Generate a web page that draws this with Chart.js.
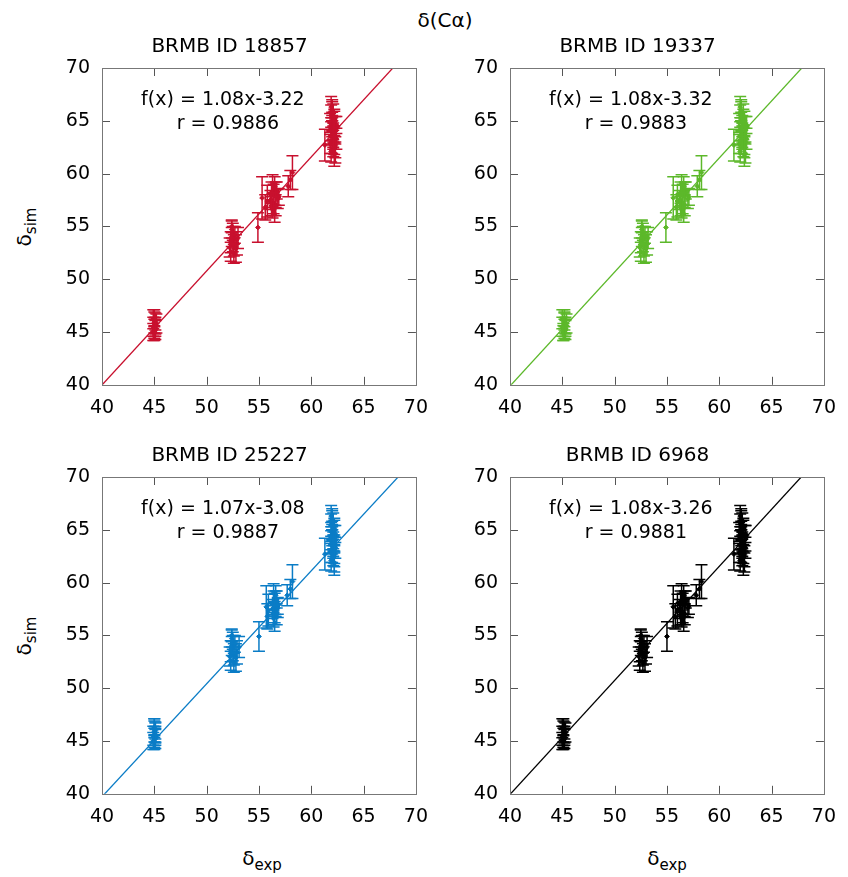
<!DOCTYPE html>
<html>
<head>
<meta charset="utf-8">
<script src="https://cdn.jsdelivr.net/npm/chart.js@4.4.0/dist/chart.umd.min.js"></script>
<style>
  body { margin:0; background:#fff; width:848px; height:877px; position:relative; overflow:hidden; font-family:"DejaVu Sans", sans-serif; }
  canvas { position:absolute; }
  .lbl { position:absolute; font-size:20px; color:#000; white-space:nowrap; }
  .lbl sub { font-size:15px; vertical-align:-5px; line-height:0; }
  .rot { transform:translate(-50%,-50%) rotate(-90deg); }
  .ctr { transform:translate(-50%,-50%); }
</style>
</head>
<body>
<div class="lbl ctr" style="left:445px;top:20px">δ(Cα)</div>
<div class="lbl rot" style="left:24px;top:227px">δ<sub>sim</sub></div>
<div class="lbl rot" style="left:24px;top:636px">δ<sub>sim</sub></div>
<div class="lbl ctr" style="left:262px;top:858px">δ<sub>exp</sub></div>
<div class="lbl ctr" style="left:667px;top:858px">δ<sub>exp</sub></div>

<canvas id="c1"></canvas>
<canvas id="c2"></canvas>
<canvas id="c3"></canvas>
<canvas id="c4"></canvas>

<script>
// simulated shifts (same for every entry) and their uncertainties
var simY = [
  45.0,45.3,45.6,45.9,46.2,45.4,45.8,44.9,46.0,45.5,46.3,45.2,
  53.0,53.5,54.0,54.5,53.2,52.6,55.0,53.8,54.2,52.9,53.9,54.7,52.4,53.4,
  54.9,
  57.7,56.8,57.4,
  57.5,58.2,56.6,57.9,58.8,57.0,58.4,57.6,59.0,56.2,58.0,57.2,57.8,56.9,
  58.8,59.4,60.1,
  62.7,
  66.3,65.9,65.5,65.1,64.8,64.5,64.2,63.9,63.6,63.3,63.0,62.7,62.4,62.1,61.9,64.0,65.3,63.5,62.8,64.6,66.0,61.8,63.2,65.7,62.5,64.9
];
var simErr = [
  0.8,0.9,0.8,1.0,0.9,0.8,0.9,0.7,0.8,0.9,0.8,0.9,
  0.9,1.0,0.9,0.8,1.0,0.9,0.6,1.2,0.8,1.3,1.0,0.8,0.9,1.1,
  1.4,
  2.0,1.2,1.5,
  0.9,1.0,0.8,1.1,0.9,1.0,0.8,0.9,0.9,0.8,1.2,1.0,0.8,0.9,
  1.0,0.9,1.6,
  1.5,
  1.0,0.9,1.1,0.8,0.9,1.0,1.2,0.9,0.8,1.0,1.1,0.9,0.8,1.0,0.9,1.3,0.8,1.0,0.9,0.8,1.0,1.1,0.9,0.8,1.0,0.9
];

// experimental shifts per BMRB entry
var exp18857 = [
  44.9,45.0,45.1,45.0,44.9,45.1,45.2,45.0,45.1,44.9,45.0,45.1,
  52.2,52.3,52.4,52.5,52.6,52.3,52.4,52.5,52.7,52.8,53.0,52.4,52.6,52.9,
  54.9,
  55.3,55.6,55.8,
  56.1,56.2,56.3,56.4,56.5,56.6,56.7,56.8,56.3,56.5,56.6,56.4,56.9,56.2,
  57.8,58.0,58.2,
  61.3,
  61.9,62.0,62.1,62.2,61.8,62.0,62.3,62.1,61.9,62.4,62.0,62.2,62.1,61.9,62.3,62.0,62.2,62.1,61.8,62.4,62.0,62.2,62.1,61.9,62.3,62.0
];
var exp19337 = [
  45.1,45.2,45.3,45.2,45.0,45.3,45.4,45.1,45.2,45.0,45.2,45.3,
  52.4,52.5,52.6,52.7,52.8,52.5,52.6,52.7,52.9,53.0,53.2,52.6,52.8,53.1,
  54.9,
  55.6,55.9,56.0,
  56.2,56.3,56.4,56.5,56.6,56.7,56.8,57.0,56.4,56.6,56.7,56.5,57.1,56.3,
  57.9,58.1,58.3,
  61.4,
  62.0,62.1,62.3,62.4,61.9,62.2,62.5,62.2,62.0,62.6,62.1,62.4,62.3,62.0,62.5,62.1,62.3,62.2,61.9,62.6,62.1,62.4,62.2,62.0,62.4,62.1
];
var exp25227 = [
  44.9,45.0,45.1,45.0,45.0,45.1,45.1,45.0,45.1,44.9,45.0,45.1,
  52.2,52.3,52.4,52.5,52.6,52.3,52.4,52.5,52.7,52.8,53.1,52.4,52.6,52.9,
  55.0,
  55.7,55.8,55.9,
  56.3,56.4,56.4,56.5,56.6,56.7,56.7,56.8,56.4,56.5,56.6,56.5,56.8,56.4,
  57.7,58.0,58.2,
  61.3,
  61.9,62.0,62.1,62.2,61.9,62.0,62.2,62.1,61.9,62.3,62.0,62.2,62.1,61.9,62.2,62.0,62.2,62.1,61.9,62.3,62.0,62.2,62.1,61.9,62.2,62.0
];
var exp6968 = [
  45.0,45.1,45.2,45.1,45.0,45.2,45.3,45.1,45.2,45.0,45.1,45.2,
  52.3,52.4,52.5,52.6,52.7,52.4,52.5,52.6,52.8,52.9,53.1,52.5,52.7,53.0,
  55.0,
  55.6,55.8,56.0,
  56.2,56.3,56.4,56.5,56.6,56.7,56.8,57.0,56.4,56.6,56.7,56.5,57.1,56.3,
  57.8,58.1,58.3,
  61.4,
  62.0,62.1,62.2,62.3,61.9,62.1,62.5,62.2,62.0,62.5,62.1,62.3,62.2,62.0,62.4,62.1,62.3,62.2,61.9,62.5,62.1,62.3,62.2,62.0,62.4,62.1
];

var entryIds  = ["18857", "19337", "25227", "6968"];
var fitSlope  = [1.08, 1.08, 1.07, 1.08];
var fitOffset = [-3.22, -3.32, -3.08, -3.26];
var fitR      = ["0.9886", "0.9883", "0.9887", "0.9881"];
var expSets   = [exp18857, exp19337, exp25227, exp6968];
var colors    = ["#c8102e", "#5cb82a", "#0a7cc6", "#000000"];
var axisTicks = [40, 45, 50, 55, 60, 65, 70];

Chart.defaults.font.family = "'DejaVu Sans', sans-serif";
Chart.defaults.color = "#000";

// error bars, mirrored inward ticks, frame and fit label
var panelDecor = {
  id: 'panelDecor',
  afterDatasetsDraw: function(chart, args, opts) {
    var ctx = chart.ctx, xs = chart.scales.x, ys = chart.scales.y, a = chart.chartArea;
    var ds = chart.data.datasets[0];
    ctx.save();
    ctx.beginPath();
    ctx.rect(a.left, a.top, a.right - a.left, a.bottom - a.top);
    ctx.clip();
    ctx.strokeStyle = ds.borderColor;
    ctx.lineWidth = 1.5;
    ds.data.forEach(function(p) {
      var px = xs.getPixelForValue(p.x);
      var lo = ys.getPixelForValue(p.y - p.err), hi = ys.getPixelForValue(p.y + p.err);
      ctx.beginPath();
      ctx.moveTo(px, lo); ctx.lineTo(px, hi);
      ctx.moveTo(px - 6, lo); ctx.lineTo(px + 6, lo);
      ctx.moveTo(px - 6, hi); ctx.lineTo(px + 6, hi);
      ctx.stroke();
    });
    ctx.restore();

    ctx.save();
    ctx.strokeStyle = '#555';
    ctx.lineWidth = 1;
    axisTicks.slice(1, -1).forEach(function(v) {
      var x = Math.round(xs.getPixelForValue(v)) + 0.5;
      var y = Math.round(ys.getPixelForValue(v)) + 0.5;
      ctx.beginPath();
      ctx.moveTo(x, a.bottom); ctx.lineTo(x, a.bottom - 8);
      ctx.moveTo(x, a.top); ctx.lineTo(x, a.top + 8);
      ctx.moveTo(a.left, y); ctx.lineTo(a.left + 8, y);
      ctx.moveTo(a.right, y); ctx.lineTo(a.right - 8, y);
      ctx.stroke();
    });
    ctx.strokeStyle = '#777';
    ctx.strokeRect(Math.round(a.left) + 0.5, Math.round(a.top) + 0.5,
                   Math.round(a.right - a.left), Math.round(a.bottom - a.top));

    ctx.fillStyle = '#000';
    ctx.font = "19px 'DejaVu Sans', sans-serif";
    ctx.textAlign = 'center';
    ctx.textBaseline = 'middle';
    var cx = a.left + (a.right - a.left) * 0.385;
    ctx.fillText(opts.line1, cx, a.top + 32);
    ctx.fillText(opts.line2, cx + 5, a.top + 56);
    ctx.restore();
  }
};

var boxes = [
  { left: 40,  top: 25.2 },
  { left: 448, top: 25.2 },
  { left: 40,  top: 434.2 },
  { left: 448, top: 434.2 }
];

for (var k = 0; k < 4; k++) {
  var cv = document.getElementById('c' + (k + 1));
  cv.style.left = boxes[k].left + 'px';
  cv.style.top = boxes[k].top + 'px';
  cv.style.width = '400px';
  cv.style.height = '405px';
  cv.width = 400; cv.height = 405;

  var pts = expSets[k].map(function(x, i) { return { x: x, y: simY[i], err: simErr[i] }; });
  var m = fitSlope[k], b = fitOffset[k];
  var fitLine = [{ x: 40, y: m * 40 + b }, { x: 70, y: m * 70 + b }];
  var sign = b < 0 ? '-' : '+';

  new Chart(cv, {
    type: 'scatter',
    data: {
      datasets: [
        { data: pts, borderColor: colors[k], backgroundColor: colors[k],
          pointStyle: 'rectRot', pointRadius: 2.4, borderWidth: 1 },
        { data: fitLine, showLine: true, borderColor: colors[k], borderWidth: 1.3,
          pointRadius: 0, fill: false }
      ]
    },
    options: {
      responsive: false,
      animation: false,
      layout: { padding: { left: 0, right: 21, top: 0, bottom: 0 } },
      plugins: {
        legend: { display: false },
        tooltip: { enabled: false },
        title: { display: true, text: 'BRMB ID ' + entryIds[k],
                 font: { size: 20, weight: 'normal' }, color: '#000',
                 padding: { top: 10, bottom: 9 } },
        panelDecor: {
          line1: 'f(x) = ' + m.toFixed(2) + 'x' + sign + Math.abs(b).toFixed(2),
          line2: 'r = ' + fitR[k]
        }
      },
      scales: {
        x: { type: 'linear', min: 40, max: 70,
             ticks: { stepSize: 5, font: { size: 19 }, color: '#000', padding: 12 },
             grid: { display: false, drawTicks: false }, border: { display: false },
             afterFit: function(s) { s.height = 45.2; } },
        y: { type: 'linear', min: 40, max: 70,
             ticks: { stepSize: 5, font: { size: 19 }, color: '#000', padding: 12 },
             grid: { display: false, drawTicks: false }, border: { display: false },
             afterFit: function(s) { s.width = 62; } }
      }
    },
    plugins: [panelDecor]
  });
}
</script>
</body>
</html>
